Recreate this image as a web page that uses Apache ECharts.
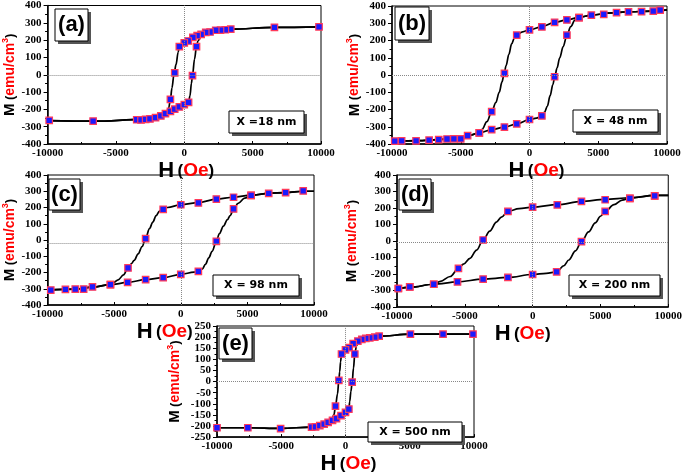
<!DOCTYPE html>
<html><head><meta charset="utf-8">
<script src="https://cdn.jsdelivr.net/npm/echarts@6/dist/echarts.min.js"></script>
<style>html,body{margin:0;padding:0;background:#fff}#c{width:685px;height:476px}</style>
</head><body><div id="c"></div>
<script>
// ---------------- DATA ----------------
const xTicks = [-10000, -5000, 0, 5000, 10000];
const yTicksAD = [-400, -300, -200, -100, 0, 100, 200, 300, 400];
const yTicksE = [-250, -200, -150, -100, -50, 0, 50, 100, 150, 200, 250];
const panelTags = ['(a)', '(b)', '(c)', '(d)', '(e)'];
const sizeLabels = ['X =18 nm', 'X = 48 nm', 'X = 98 nm', 'X = 200 nm', 'X = 500 nm'];
const zeroLineM = [0, 0, -18, -10, 0];

// (a) X = 18 nm
const aMarkDown = [[9855,277],[6594,274],[3400,263],[3000,260],[2650,258],[2300,257],[1884,247],[1570,245],[1232,233],[942,226],[628,216],[290,195],[0,184],[-362,163],[-700,11],[-1014,-142]];
const aMarkUp = [[-9880,-264],[-6667,-268],[-3478,-260],[-3164,-261],[-2826,-258],[-2512,-255],[-2101,-248],[-1715,-238],[-1377,-225],[-1014,-211],[-700,-199],[-362,-186],[0,-172],[314,-159],[600,-5],[894,163]];
const aFitDown = [[10000,277],[6600,274],[3400,263],[2000,250],[1200,233],[600,214],[0,184],[-362,165],[-450,130],[-600,60],[-750,5],[-900,-75],[-1014,-143],[-1150,-195],[-1377,-225],[-2000,-247],[-3000,-258],[-6600,-268],[-10000,-265]];
const aFitUp = [[-10000,-265],[-6600,-268],[-3000,-258],[-2000,-247],[-1377,-225],[-1014,-211],[-700,-199],[-362,-186],[0,-172],[314,-159],[420,-120],[520,-50],[600,-5],[750,90],[894,164],[1000,195],[1232,228],[1600,243],[2000,250],[3400,263],[6600,274],[10000,277]];

// (b) X = 48 nm
const bMarkDown = [[9500,376],[9000,370],[8150,367],[7200,366],[6330,362],[5400,352],[4500,347],[3600,333],[2720,319],[1825,305],[900,279],[0,262],[-927,231],[-1825,10],[-2750,-212],[-3650,-335]];
const bMarkUp = [[-9800,-383],[-9300,-382],[-8250,-382],[-7300,-378],[-6600,-375],[-6000,-371],[-5500,-370],[-5000,-370],[-4500,-352],[-3650,-336],[-2750,-317],[-1825,-302],[-927,-283],[0,-258],[900,-237],[1825,-10],[2720,231],[3600,333]];
const bFitDown = [[10000,378],[9000,370],[7000,366],[6000,360],[4500,347],[3600,334],[2720,320],[1825,305],[900,281],[0,262],[-500,250],[-927,232],[-1100,215],[-1300,180],[-1500,120],[-1700,55],[-1850,5],[-2000,-40],[-2200,-100],[-2450,-160],[-2750,-213],[-3100,-270],[-3450,-315],[-3800,-340],[-4500,-352],[-5000,-366],[-6000,-372],[-8000,-381],[-10000,-384]];
const bFitUp = [[-10000,-384],[-8000,-381],[-6000,-372],[-5000,-366],[-4500,-352],[-3650,-336],[-2750,-317],[-1825,-302],[-927,-283],[0,-258],[500,-250],[900,-237],[1100,-215],[1300,-180],[1500,-120],[1700,-55],[1850,-5],[2000,40],[2200,100],[2450,165],[2720,230],[3000,280],[3300,318],[3600,334],[4500,347],[6000,360],[7000,366],[9000,370],[10000,378]];

// (c) X = 98 nm
const cMarkDown = [[9190,302],[7870,291],[6600,287],[5280,275],[3960,263],[2670,252],[1320,228],[0,217],[-1320,189],[-2640,8],[-3960,-172],[-5280,-275]];
const cMarkUp = [[-9760,-308],[-8660,-304],[-7920,-302],[-7290,-302],[-6630,-289],[-5280,-275],[-3990,-261],[-2640,-244],[-1320,-232],[0,-211],[1320,-193],[2670,-8],[3960,191],[5280,275]];
const cFitDown = [[10000,300],[9190,300],[7870,292],[6600,287],[5280,276],[3960,263],[2670,252],[1320,230],[0,217],[-1000,200],[-1320,190],[-1600,178],[-1850,150],[-2100,110],[-2350,70],[-2640,10],[-2900,-40],[-3200,-85],[-3500,-125],[-3700,-145],[-3960,-172],[-4300,-215],[-4700,-245],[-5040,-262],[-5280,-274],[-6630,-290],[-7900,-302],[-10000,-308]];
const cFitUp = [[-10000,-308],[-7900,-302],[-6630,-290],[-5280,-275],[-3990,-261],[-2640,-244],[-1320,-232],[0,-211],[1000,-198],[1320,-193],[1600,-180],[1850,-150],[2100,-110],[2350,-70],[2670,-8],[2900,40],[3200,85],[3500,125],[3700,150],[3960,190],[4300,225],[4800,258],[5280,275],[6600,287],[7870,292],[9190,300],[10000,300]];

// (d) X = 200 nm
const dMarkDown = [[9000,274],[7170,258],[5350,250],[3600,240],[1820,219],[0,205],[-1820,179],[-3650,6],[-5470,-166],[-7290,-262],[-9060,-278],[-9900,-288]];
const dMarkUp = [[-9900,-288],[-9060,-278],[-7290,-262],[-5540,-248],[-3650,-231],[-1820,-221],[0,-203],[1770,-187],[3600,-4],[5350,179],[7170,258],[9000,274]];
const dFitDown = [[10000,277],[9000,276],[7170,262],[5350,252],[3600,240],[1820,220],[0,205],[-1000,196],[-1820,180],[-2300,145],[-2670,115],[-3160,60],[-3650,6],[-4130,-55],[-4620,-105],[-5100,-140],[-5470,-166],[-6080,-215],[-6800,-245],[-7290,-262],[-9000,-280],[-10000,-290]];
const dFitUp = [[-10000,-290],[-9000,-280],[-7290,-262],[-5540,-248],[-3650,-231],[-1820,-221],[0,-203],[1000,-196],[1770,-187],[2300,-150],[2670,-115],[3160,-60],[3600,-4],[4130,55],[4620,110],[5000,150],[5350,179],[6000,220],[6600,248],[7170,260],[9000,276],[10000,277]];

// (e) X = 500 nm
const eMarkDown = [[9920,213],[7590,213],[5050,213],[2620,204],[2280,200],[1890,197],[1580,194],[1270,190],[960,182],[596,171],[285,153],[0,143],[-310,124],[-520,5],[-780,-111]];
const eMarkUp = [[-10000,-208],[-7600,-208],[-5050,-212],[-2640,-205],[-2330,-204],[-2000,-198],[-1660,-192],[-1350,-184],[-1010,-175],[-700,-167],[-350,-153],[0,-139],[260,-124],[520,-3],[725,124]];
const eFitDown = [[10000,213],[5050,213],[2600,204],[1300,190],[600,171],[300,155],[0,143],[-310,124],[-380,90],[-450,45],[-520,5],[-620,-55],[-780,-111],[-900,-150],[-1100,-175],[-1500,-189],[-2000,-198],[-2640,-205],[-5050,-211],[-7600,-208],[-10000,-208]];
const eFitUp = [[-10000,-208],[-7600,-208],[-5050,-211],[-2640,-205],[-2000,-198],[-1350,-184],[-700,-167],[-350,-153],[0,-139],[260,-124],[330,-90],[420,-45],[520,-3],[620,60],[725,124],[850,160],[1000,180],[1300,190],[1600,194],[2600,204],[5050,213],[10000,213]];

// ---------------- LAYOUT ----------------
const panels = [
  {down:aMarkDown, up:aMarkUp, fd:aFitDown, fu:aFitUp, yt:yTicksAD},
  {down:bMarkDown, up:bMarkUp, fd:bFitDown, fu:bFitUp, yt:yTicksAD},
  {down:cMarkDown, up:cMarkUp, fd:cFitDown, fu:cFitUp, yt:yTicksAD},
  {down:dMarkDown, up:dMarkUp, fd:dFitDown, fu:dFitUp, yt:yTicksAD},
  {down:eMarkDown, up:eMarkUp, fd:eFitDown, fu:eFitUp, yt:yTicksE}
];
const grids = [
  {left:45, top:5, width:276, height:139},
  {left:392, top:6, width:275, height:138},
  {left:42, top:175, width:272, height:130},
  {left:397, top:175, width:274, height:132},
  {left:217, top:326, width:257, height:126}
];
const xNameGap = [4, 5, 9, 4, 2];
const xNameShift = [2, 7, -16, -10, 3];
const yNameGap = [27, 27, 26, 36, 33];
const tagBoxes = [[55,9,33,32],[395,7,34,33],[49,179,31,31],[399,179,32,31],[219,328,33,31]];
const sizeBoxes = [[229,111,75,22],[573,110,85,22],[213,275,86,21],[569,275,91,21],[368,422,94,20]];

const tickFont = {fontFamily:'Liberation Serif', fontWeight:'bold', fontSize:11, color:'#000', formatter: v => String(v)};
const xRich = {
  h:{fontFamily:'Liberation Sans', fontWeight:'bold', fontSize:22, color:'#000'},
  p:{fontFamily:'Liberation Sans', fontWeight:'bold', fontSize:17, color:'#000'},
  r:{fontFamily:'Liberation Sans', fontWeight:'bold', fontSize:19, color:'#ff0000'}
};
const yRich = {
  m:{fontFamily:'Liberation Sans', fontWeight:'bold', fontSize:15, color:'#000'},
  p:{fontFamily:'Liberation Sans', fontWeight:'bold', fontSize:13, color:'#000'},
  r:{fontFamily:'Liberation Sans', fontWeight:'bold', fontSize:14, color:'#ff0000'},
  s:{fontFamily:'Liberation Sans', fontWeight:'bold', fontSize:9, color:'#ff0000', padding:[0,0,9,0]}
};

const option = {animation:false, backgroundColor:'#fff', grid:[], xAxis:[], yAxis:[], series:[], graphic:[]};

panels.forEach((p, i) => {
  option.grid.push(Object.assign({show:true, borderColor:'#000', borderWidth:1, backgroundColor:'transparent'}, grids[i]));
  const sh = xNameShift[i];
  option.xAxis.push({
    type:'value', gridIndex:i, min:xTicks[0], max:xTicks[xTicks.length-1], interval:xTicks[1]-xTicks[0],
    axisLine:{show:true, onZero:false, lineStyle:{color:'#000', width:1.5}},
    axisTick:{show:true, inside:true, length:3, lineStyle:{color:'#000'}},
    minorTick:{show:true, splitNumber:2, length:2, lineStyle:{color:'#000'}},
    axisLabel:Object.assign({margin:4}, tickFont),
    splitLine:{show:false},
    name:'{h|H} {p|(}{r|Oe}{p|)}', nameLocation:'middle', nameGap:xNameGap[i],
    nameTextStyle:{rich:xRich, padding: sh >= 0 ? [0,0,0,2*sh] : [0,-2*sh,0,0]}
  });
  const yt = p.yt;
  option.yAxis.push({
    type:'value', gridIndex:i, min:yt[0], max:yt[yt.length-1], interval:yt[1]-yt[0],
    axisLine:{show:true, onZero:false, lineStyle:{color:'#000', width:1.5}},
    axisTick:{show:true, inside:false, length:4, lineStyle:{color:'#000'}},
    minorTick:{show:true, splitNumber:2, length:2.5, lineStyle:{color:'#000'}},
    axisLabel:Object.assign({margin:6}, tickFont),
    splitLine:{show:false},
    name:'{m|M} {p|(}{r|emu/cm}{s|3}{p|)}', nameLocation:'middle', nameGap:yNameGap[i], nameRotate:90,
    nameTextStyle:{rich:yRich}
  });
  const lineBase = {type:'line', xAxisIndex:i, yAxisIndex:i, showSymbol:false, symbol:'none', smooth:0.35, smoothMonotone:'x',
    lineStyle:{color:'#000', width:1.7}, z:3, silent:true};
  option.series.push(Object.assign({}, lineBase, {data:p.fd,
    markLine:{silent:true, symbol:['none','none'], label:{show:false}, animation:false,
      lineStyle:{type:'dotted', color:'#888', width:1}, data:[{xAxis:0},{yAxis:zeroLineM[i]}]}}));
  option.series.push(Object.assign({}, lineBase, {data:p.fu}));
  const mk = {type:'scatter', xAxisIndex:i, yAxisIndex:i, symbol:'rect', symbolSize:6.5, z:4,
    itemStyle:{color:'#1a1aff', borderColor:'#ff3a5a', borderWidth:1.2, opacity:1}};
  option.series.push(Object.assign({}, mk, {data:p.down}));
  option.series.push(Object.assign({}, mk, {data:p.up}));

  // annotation boxes
  [[tagBoxes[i], panelTags[i], {fontFamily:'Liberation Sans', fontWeight:'bold', fontSize:22}],
   [sizeBoxes[i], sizeLabels[i], {fontFamily:'DejaVu Sans', fontWeight:'bold', fontSize:11}]].forEach(([b, txt, f]) => {
    option.graphic.push({type:'rect', z:10, shape:{x:b[0]+3, y:b[1]+3, width:b[2], height:b[3]}, style:{fill:'#555'}});
    option.graphic.push({type:'rect', z:11, shape:{x:b[0], y:b[1], width:b[2], height:b[3]}, style:{fill:'#fff', stroke:'#000', lineWidth:1}});
    option.graphic.push({type:'text', z:12, x:b[0]+b[2]/2, y:b[1]+b[3]/2,
      style:Object.assign({text:txt, fill:'#000', align:'center', verticalAlign:'middle'}, f)});
  });
});

const chart = echarts.init(document.getElementById('c'), null, {renderer:'canvas'});
chart.setOption(option);
</script>
</body></html>
